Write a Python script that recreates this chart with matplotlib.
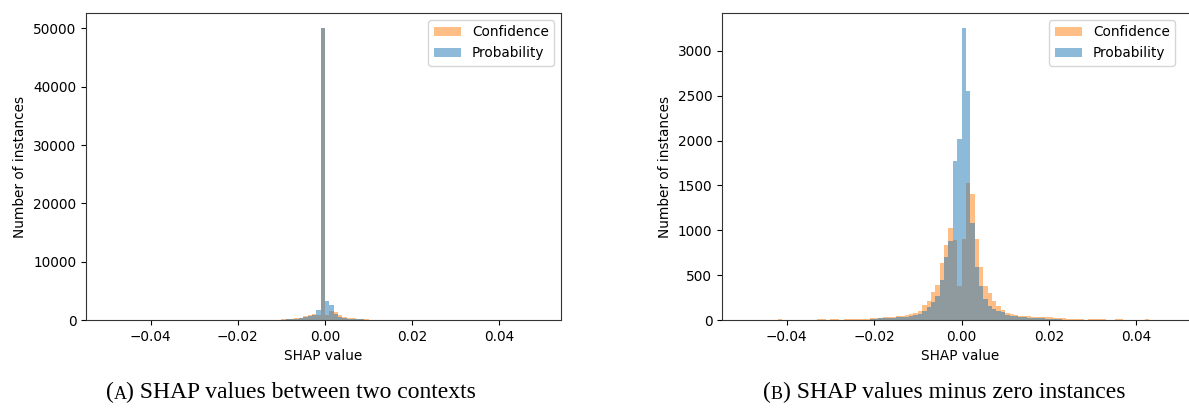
import numpy as np
import matplotlib.pyplot as plt

# SHAP value histograms, 100 bins of width 0.001 on [-0.05, 0.05]
bin_edges = np.linspace(-0.05, 0.05, 101)

# counts per bin once the zero-valued instances are dropped (bins run left to right)
conf_counts = [
    0, 0, 0, 0, 0, 0, 0, 0, 15, 0,
    0, 0, 0, 0, 0, 0, 0, 12, 12, 0,
    10, 10, 0, 12, 12, 12, 12, 12, 8, 18,
    20, 22, 30, 33, 35, 45, 48, 52, 70, 75,
    96, 170, 207, 307, 392, 633, 836, 1021, 891, 381,
    899, 1528, 1402, 899, 596, 381, 300, 207, 159, 115,
    78, 67, 55, 50, 45, 40, 38, 35, 30, 30,
    28, 25, 22, 20, 10, 10, 10, 10, 0, 12,
    12, 12, 12, 0, 0, 12, 12, 0, 0, 0,
    0, 0, 15, 0, 0, 0, 0, 0, 0, 0,
]
prob_counts = [
    0, 0, 0, 0, 0, 0, 0, 0, 0, 0,
    0, 0, 0, 0, 0, 0, 0, 0, 0, 0,
    0, 0, 0, 0, 0, 0, 0, 0, 0, 15,
    15, 18, 20, 22, 25, 28, 30, 35, 40, 55,
    70, 100, 140, 200, 270, 450, 700, 880, 1768, 2020,
    3260, 2556, 1084, 595, 381, 230, 160, 120, 100, 85,
    60, 48, 40, 35, 30, 25, 22, 20, 18, 15,
    12, 10, 8, 0, 0, 0, 0, 0, 0, 0,
    0, 0, 0, 0, 0, 0, 0, 0, 0, 0,
    0, 0, 0, 0, 0, 0, 0, 0, 0, 0,
]

# the spike bin [-0.001, 0) including the zero instances
spike_bin_left = -0.001
conf_spike = 50150
prob_spike = 50120

series_labels = ['Confidence', 'Probability']
captions = ['SHAP values between two contexts', 'SHAP values minus zero instances']
panel_tags = ['A', 'B']

centers = (bin_edges[:-1] + bin_edges[1:]) / 2
spike_idx = int(np.argmin(np.abs(bin_edges[:-1] - spike_bin_left)))

conf_all = np.array(conf_counts, dtype=float)
prob_all = np.array(prob_counts, dtype=float)
conf_all[spike_idx] = conf_spike
prob_all[spike_idx] = prob_spike

plt.rcParams['font.size'] = 9.8

W, H = 1189, 412
fig = plt.figure(figsize=(W / 100, H / 100), dpi=100)

x_lo, x_hi = -0.0548, 0.0541
ax_a = fig.add_axes([86 / W, 1 - 320 / H, 475 / W, 307 / H])
# right panel runs off the page edge; keep the same x scale as panel A
ax_b = fig.add_axes([722 / W, 1 - 320 / H, 520 / W, 307 / H])

panels = [
    (ax_a, conf_all, prob_all, np.arange(0, 50001, 10000), x_hi),
    (ax_b, np.array(conf_counts), np.array(prob_counts), np.arange(0, 3001, 500),
     x_lo + (x_hi - x_lo) * 520 / 476),
]

for ax, conf, prob, yticks, right in panels:
    ax.hist(centers, bins=bin_edges, weights=conf, color='C1', alpha=0.5, label=series_labels[0])
    ax.hist(centers, bins=bin_edges, weights=prob, color='C0', alpha=0.5, label=series_labels[1])
    ax.set_xlim(x_lo, right)
    ax.set_yticks(yticks)
    ax.set_xticks([-0.04, -0.02, 0.0, 0.02, 0.04])
    ax.set_xlabel('SHAP value')
    ax.set_ylabel('Number of instances')
    for sp in ax.spines.values():
        sp.set_color('#333333')

ax_a.xaxis.set_label_coords(0.5, -0.095)
ax_b.xaxis.set_label_coords(476 / 520 / 2, -0.095)

ax_a.legend(loc='upper right')
ax_b.legend(loc='upper right', bbox_to_anchor=(1182 / W, 1 - 13 / H),
            bbox_transform=fig.transFigure, borderaxespad=0.5)

# captions with a small-caps panel tag, centred under each panel
cap_center = [291, 944]
cap_y = 1 - 403 / H
serif = 'Liberation Serif'
for xc, tag, text in zip(cap_center, panel_tags, captions):
    parts = [fig.text(0, cap_y, '(', fontsize=17, family=serif, va='bottom'),
             fig.text(0, cap_y, tag, fontsize=13, family=serif, va='bottom'),
             fig.text(0, cap_y, ') ' + text, fontsize=17, family=serif, va='bottom')]
    fig.canvas.draw()
    widths = [p.get_window_extent().width for p in parts]
    x = xc - sum(widths) / 2
    for p, w in zip(parts, widths):
        p.set_x(x / W)
        x += w

fig.savefig('out.png', dpi=100)
